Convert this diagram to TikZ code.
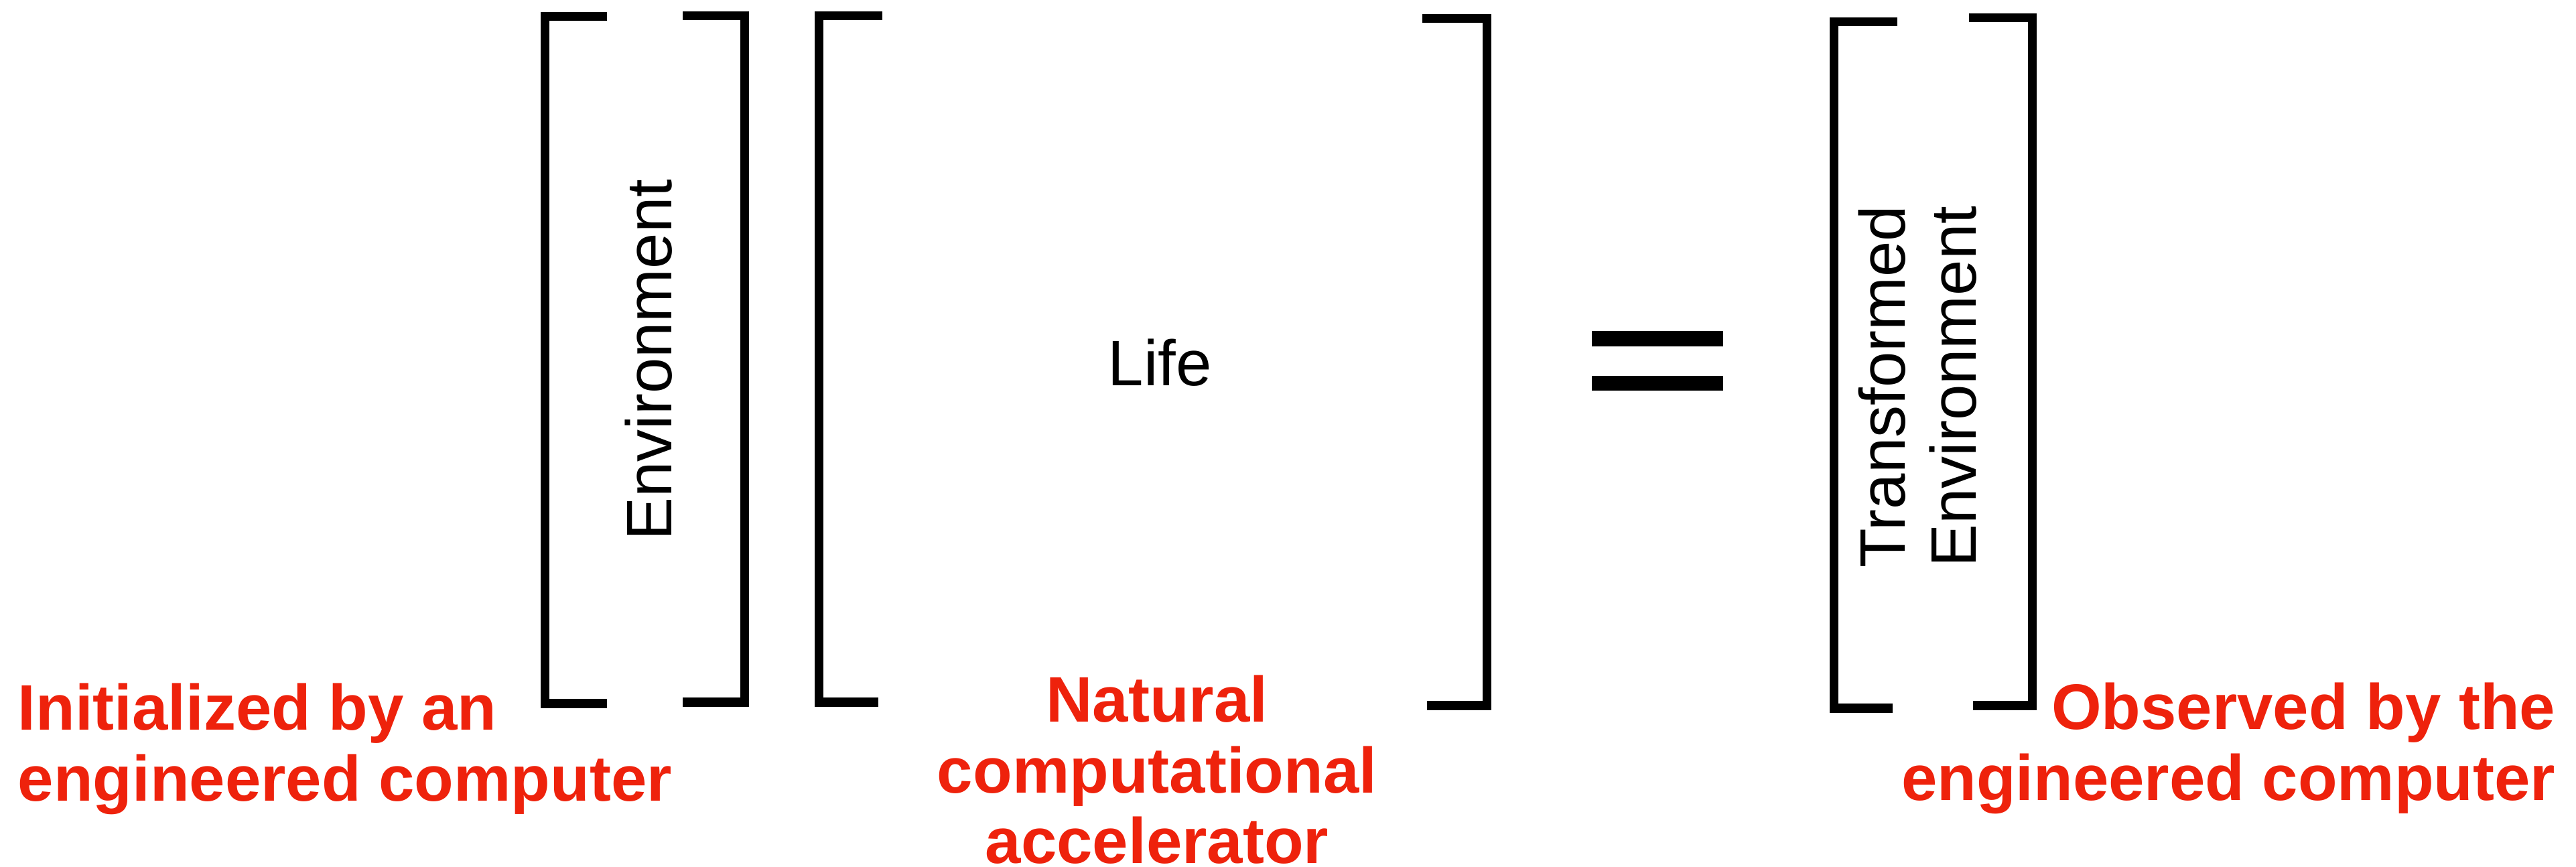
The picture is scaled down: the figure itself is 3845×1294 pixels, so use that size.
\documentclass[tikz,border=0pt]{standalone}
\usepackage{fontspec}
\setmainfont{Liberation Sans}
\definecolor{labelred}{RGB}{238,34,12}
\tikzstyle{bracket} = [line width=3.7pt,line join=miter]
\tikzstyle{term} = [font=\fontsize{27.3pt}{30.1pt}\selectfont,inner sep=0pt]
\tikzstyle{note} = [font=\fontsize{27.3pt}{30.1pt}\selectfont\bfseries,text=labelred,inner sep=0pt]

\begin{document}
\begin{tikzpicture}[x=0.01cm,y=0.01cm]
    \useasboundingbox (0,0) rectangle (3845,1294);
    \draw[bracket] (906,1269) -- (813,1269) -- (813,244) -- (906,244);
    \draw[bracket] (1019,1270) -- (1111,1270) -- (1111,246) -- (1019,246);
    \node[term,rotate=90,anchor=base] (env) at (1002,757) {Environment};
    \draw[bracket] (1317,1270) -- (1222,1270) -- (1222,246) -- (1311,246);
    \draw[bracket] (2123,1266) -- (2219,1266) -- (2219,241) -- (2130,241);
    \node[term,anchor=base] (life) at (1731,718) {Life};
    \fill (2376,777) rectangle (2572,800);
    \fill (2376,711) rectangle (2572,733);
    \draw[bracket] (2832,1261) -- (2737,1261) -- (2737,237) -- (2825,237);
    \draw[bracket] (2939,1267) -- (3033,1267) -- (3033,241) -- (2945,241);
    \node[term,rotate=90,align=center] (tenv) at (2862,717) {Transformed\\Environment};
    \node[note,align=left,anchor=north west] (init) at (26,275) {Initialized by an\\engineered computer};
    \node[note,align=center,anchor=north] (accel) at (1727,287) {Natural\\computational\\accelerator};
    \node[note,align=right,anchor=north east] (obs) at (3815,276) {Observed by the\\engineered computer};
\end{tikzpicture}
\end{document}
